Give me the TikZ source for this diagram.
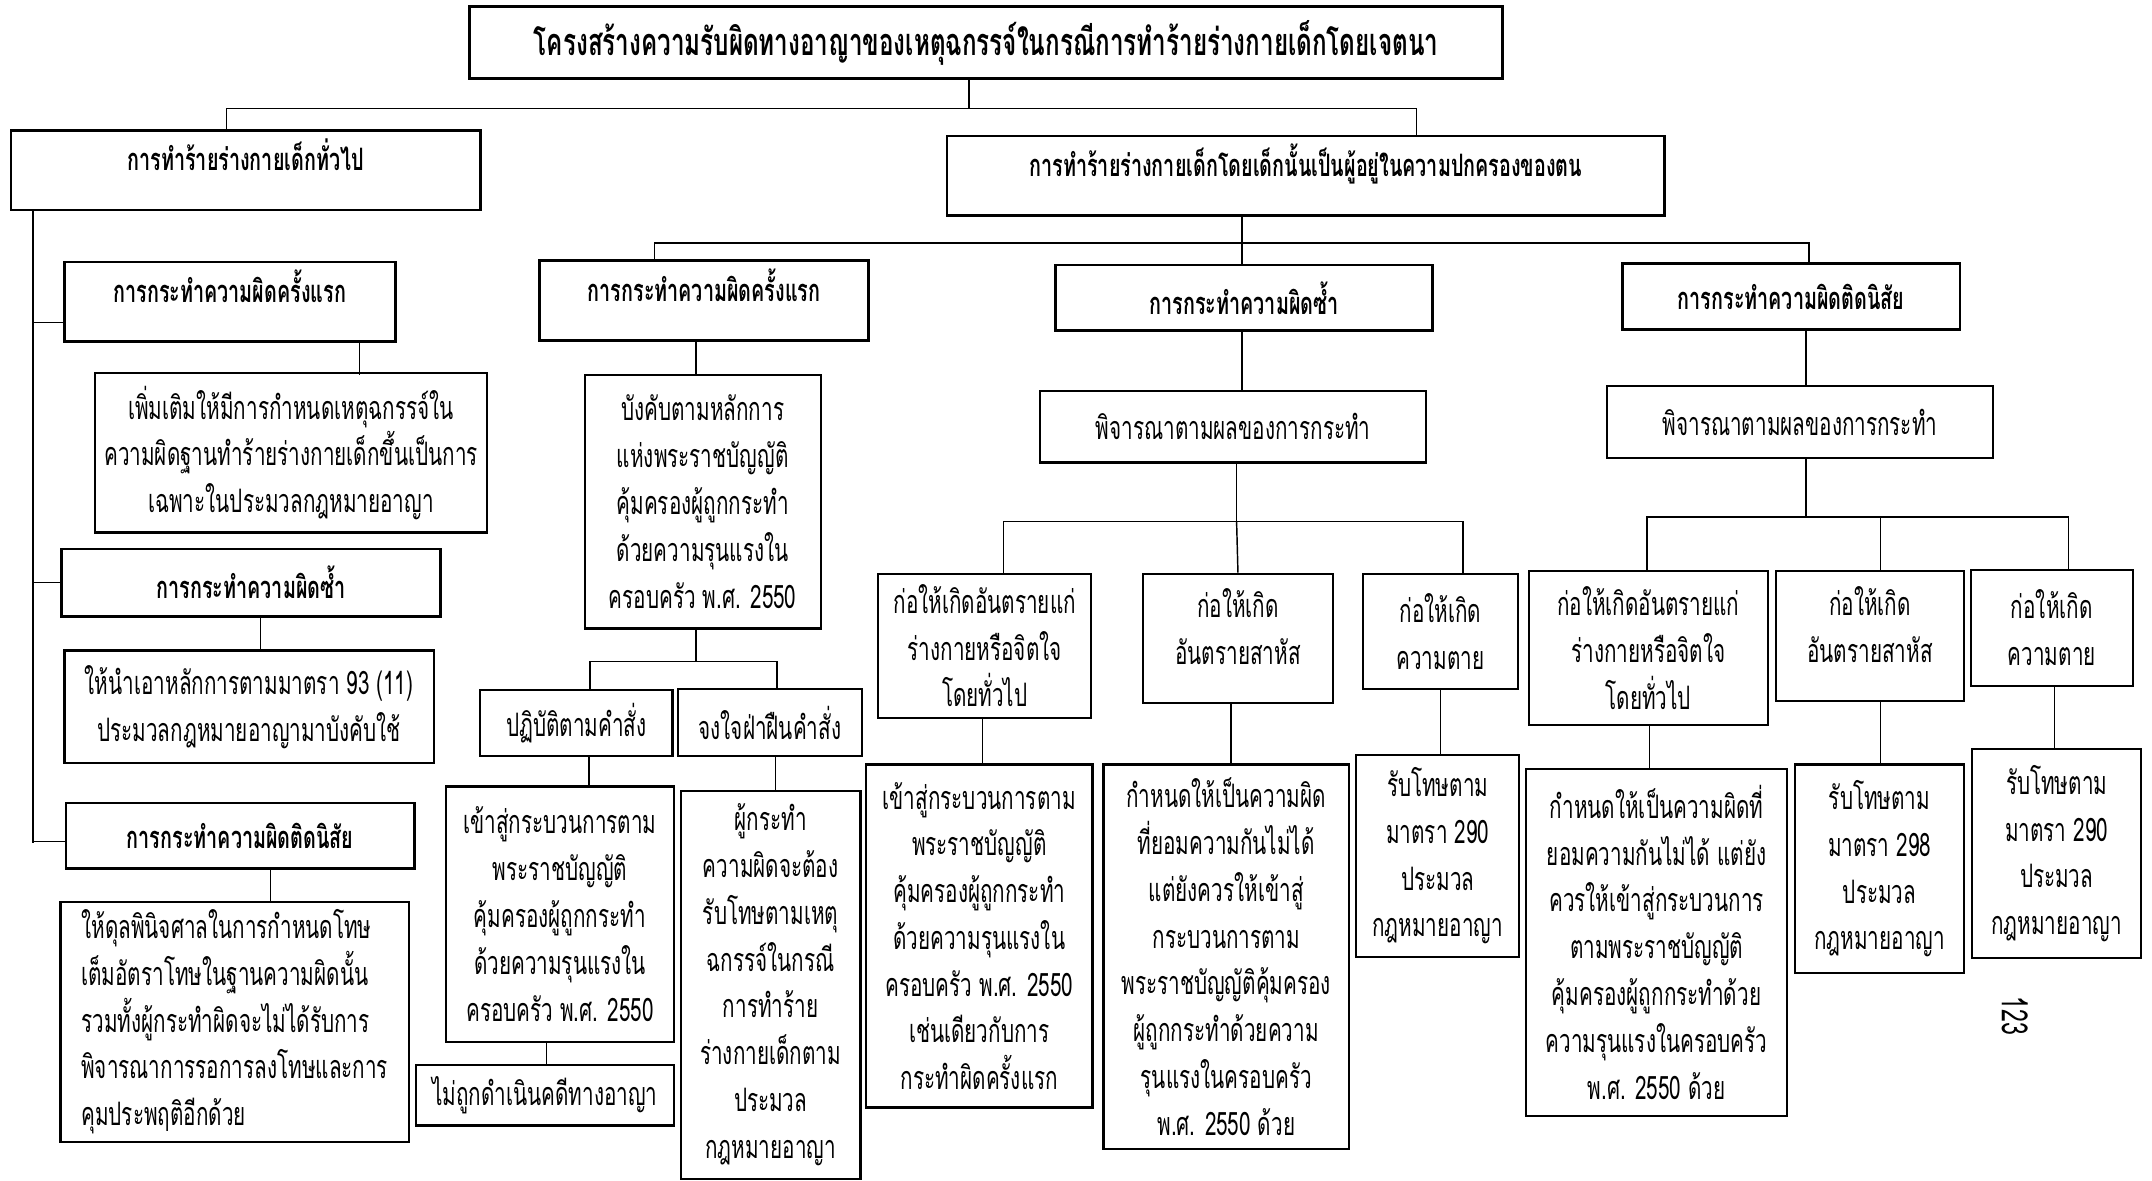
\documentclass[tikz,border=0pt]{standalone}
\usepackage{fontspec}
\newfontfamily\thaifont[Script=Thai,FakeStretch=0.64]{Loma}

\begin{document}
\begin{tikzpicture}[x=0.02cm, y=-0.02cm,
  font=\thaifont\fontsize{13.4}{19.4}\selectfont,
  box/.style={draw, line width=0.9pt, align=center, inner sep=0pt},
  headbox/.style={box, line width=1.1pt, font=\thaifont\bfseries\fontsize{12.8}{19.4}\selectfont},
  tallhead/.style={headbox, text height=0.33cm, text depth=0.31cm},
  titlebox/.style={box, line width=1.3pt, font=\thaifont\bfseries\fontsize{15.7}{20}\selectfont},
  link/.style={line width=0.6pt}]

  \useasboundingbox (0,0) rectangle (1568,860);

    %----------------------------------------------------------
    % Title and the two main cases
    %----------------------------------------------------------
  \node[titlebox, minimum width=15.06cm, minimum height=1.04cm] (title) at (718.5,31)
    {โครงสร้างความรับผิดทางอาญาของเหตุฉกรรจ์ในกรณีการทำร้ายร่างกายเด็กโดยเจตนา};
  \node[tallhead, minimum width=6.84cm, minimum height=1.16cm] (L0) at (179,124)
    {การทำร้ายร่างกายเด็กทั่วไป};
  \node[tallhead, minimum width=10.46cm, minimum height=1.16cm] (R0) at (951.5,128)
    {การทำร้ายร่างกายเด็กโดยเด็กนั้นเป็นผู้อยู่ในความปกครองของตน};

  \draw[link] (title.south) ++(-12.5,0) -- ++(0,21) coordinate (tbar);
  \draw[link] (L0.north) ++(-14,0) |- (tbar);
  \draw[link] (R0.north) ++(80.5,0) |- (tbar);

    %----------------------------------------------------------
    % Left branch: general assault
    %----------------------------------------------------------
  \node[tallhead, minimum width=4.82cm, minimum height=1.16cm] (L1) at (167.5,220)
    {การกระทำความผิดครั้งแรก};
  \node[box, minimum width=5.72cm, minimum height=2.32cm] (L1a) at (212,330)
    {เพิ่มเติมให้มีการกำหนดเหตุฉกรรจ์ใน\\ความผิดฐานทำร้ายร่างกายเด็กขึ้นเป็นการ\\เฉพาะในประมวลกฎหมายอาญา};
  \node[headbox, minimum width=5.52cm, minimum height=0.98cm] (L2) at (183,424.5)
    {การกระทำความผิดซ้ำ};
  \node[box, minimum width=5.38cm, minimum height=1.64cm] (L2a) at (181.5,515)
    {ให้นำเอาหลักการตามมาตรา 93 (11)\\ประมวลกฎหมายอาญามาบังคับใช้};
  \node[headbox, minimum width=5.08cm, minimum height=0.96cm] (L3) at (175,609)
    {การกระทำความผิดติดนิสัย};
  \node[box, align=left, minimum width=5.08cm, minimum height=3.5cm] (L3a) at (171,744.5)
    {ให้ดุลพินิจศาลในการกำหนดโทษ\\เต็มอัตราโทษในฐานความผิดนั้น\\รวมทั้งผู้กระทำผิดจะไม่ได้รับการ\\พิจารณาการรอการลงโทษและการ\\คุมประพฤติอีกด้วย};

  \draw[link] (L0.south) ++(-155,0) coordinate (spine) -- ++(0,460);
  \draw[link] (L1.west) ++(0,15) -- ++(-23,0);
  \draw[link] (L2.west) -- ++(-21,0);
  \draw[link] (L3.west) ++(0,4) -- ++(-24,0);
  \draw[link] (L1.south) ++(94.5,0) -- ++(0,23);
  \draw[link] (L2.south) ++(7,0) -- ++(0,25);
  \draw[link] (L3.south) ++(22,0) -- ++(0,24);

    %----------------------------------------------------------
    % Right branch: first offence
    %----------------------------------------------------------
  \node[tallhead, minimum width=4.8cm, minimum height=1.16cm] (R1) at (513,219)
    {การกระทำความผิดครั้งแรก};
  \node[box, minimum width=3.44cm, minimum height=3.7cm] (R1a) at (512,365.5)
    {บังคับตามหลักการ\\แห่งพระราชบัญญัติ\\คุ้มครองผู้ถูกกระทำ\\ด้วยความรุนแรงใน\\ครอบครัว พ.ศ. 2550};
  \node[box, minimum width=2.8cm, minimum height=0.96cm] (R1b) at (420,527)
    {ปฏิบัติตามคำสั่ง};
  \node[box, minimum width=2.68cm, minimum height=0.98cm] (R1c) at (561,526.5)
    {จงใจฝ่าฝืนคำสั่ง};
  \node[box, minimum width=3.32cm, minimum height=3.72cm] (R1b1) at (408,666)
    {เข้าสู่กระบวนการตาม\\พระราชบัญญัติ\\คุ้มครองผู้ถูกกระทำ\\ด้วยความรุนแรงใน\\ครอบครัว พ.ศ. 2550};
  \node[box, minimum width=3.76cm, minimum height=0.88cm] (R1b2) at (397,798)
    {ไม่ถูกดำเนินคดีทางอาญา};
  \node[box, minimum width=2.62cm, minimum height=5.66cm] (R1c1) at (561.5,717.5)
    {ผู้กระทำ\\ความผิดจะต้อง\\รับโทษตามเหตุ\\ฉกรรจ์ในกรณี\\การทำร้าย\\ร่างกายเด็กตาม\\ประมวล\\กฎหมายอาญา};

  \draw[link] (R0.south) ++(-46.5,0) -- ++(0,19) coordinate (rbar);
  \draw[link] (R1.north) ++(-36,0) |- (rbar);
  \draw[link] (R1.south) ++(-6,0) -- ++(0,25);
  \draw[link] (R1a.south) ++(-5,0) -- ++(0,23) coordinate (r1bar);
  \draw[link] (R1b.north) ++(10,0) |- (r1bar);
  \draw[link] (R1c.north) ++(5,0) |- (r1bar);
  \draw[link] (R1b.south) ++(9,0) -- ++(0,22);
  \draw[link] (R1b1.south) ++(-10,0) -- ++(0,17);
  \draw[link] (R1c.south) ++(4,0) -- ++(0,25);

    %----------------------------------------------------------
    % Right branch: repeated offence
    %----------------------------------------------------------
  \node[headbox, minimum width=5.5cm, minimum height=0.96cm] (R2) at (906.5,217)
    {การกระทำความผิดซ้ำ};
  \node[box, minimum width=5.62cm, minimum height=1.04cm] (R2a) at (898.5,311)
    {พิจารณาตามผลของการกระทำ};
  \node[box, minimum width=3.1cm, minimum height=2.1cm] (R2b) at (717.5,470.5)
    {ก่อให้เกิดอันตรายแก่\\ร่างกายหรือจิตใจ\\โดยทั่วไป};
  \node[box, minimum width=2.76cm, minimum height=1.88cm] (R2c) at (902,465)
    {ก่อให้เกิด\\อันตรายสาหัส\\[-10pt]};
  \node[box, minimum width=2.26cm, minimum height=1.68cm] (R2d) at (1049.5,460)
    {ก่อให้เกิด\\ความตาย};
  \node[box, minimum width=3.3cm, minimum height=5cm] (R2b1) at (713.5,682)
    {เข้าสู่กระบวนการตาม\\พระราชบัญญัติ\\คุ้มครองผู้ถูกกระทำ\\ด้วยความรุนแรงใน\\ครอบครัว พ.ศ. 2550\\เช่นเดียวกับการ\\กระทำผิดครั้งแรก};
  \node[box, minimum width=3.58cm, minimum height=5.6cm] (R2c1) at (893.5,697)
    {กำหนดให้เป็นความผิด\\ที่ยอมความกันไม่ได้\\แต่ยังควรให้เข้าสู่\\กระบวนการตาม\\พระราชบัญญัติคุ้มครอง\\ผู้ถูกกระทำด้วยความ\\รุนแรงในครอบครัว\\พ.ศ. 2550 ด้วย};
  \node[box, minimum width=2.38cm, minimum height=2.94cm] (R2d1) at (1047.5,623.5)
    {รับโทษตาม\\มาตรา 290\\ประมวล\\กฎหมายอาญา};

  \draw[link] (R2.north) ++(-1.5,0) -- ++(0,-17);
  \draw[link] (R2.south) ++(-1.5,0) -- ++(0,44);
  \draw[link] (R2a.south) ++(2.5,0) -- ++(0,42) coordinate (r2bar);
  \draw[link] (R2b.north) ++(13.5,0) |- (r2bar);
  \draw[link] (R2d.north) ++(16.5,0) |- (r2bar);
  \draw[link] (r2bar) -- (R2c.north);
  \draw[link] (R2b.south) ++(-1.5,0) -- ++(0,34);
  \draw[link] (R2c.south) ++(-5,0) -- ++(0,45);
  \draw[link] (R2d.south) -- ++(0,48);

    %----------------------------------------------------------
    % Right branch: habitual offence
    %----------------------------------------------------------
  \node[headbox, minimum width=4.92cm, minimum height=0.96cm] (R3) at (1305,216)
    {การกระทำความผิดติดนิสัย};
  \node[box, minimum width=5.62cm, minimum height=1.06cm] (R3a) at (1311.5,307.5)
    {พิจารณาตามผลของการกระทำ};
  \node[box, minimum width=3.48cm, minimum height=2.24cm] (R3b) at (1201,472)
    {ก่อให้เกิดอันตรายแก่\\ร่างกายหรือจิตใจ\\โดยทั่วไป};
  \node[box, minimum width=2.74cm, minimum height=1.9cm] (R3c) at (1362.5,463.5)
    {ก่อให้เกิด\\อันตรายสาหัส\\[-10pt]};
  \node[box, minimum width=2.36cm, minimum height=1.7cm] (R3d) at (1495,457.5)
    {ก่อให้เกิด\\ความตาย};
  \node[box, minimum width=3.8cm, minimum height=5.06cm] (R3b1) at (1207,686.5)
    {กำหนดให้เป็นความผิดที่\\ยอมความกันไม่ได้ แต่ยัง\\ควรให้เข้าสู่กระบวนการ\\ตามพระราชบัญญัติ\\คุ้มครองผู้ถูกกระทำด้วย\\ความรุนแรงในครอบครัว\\พ.ศ. 2550 ด้วย};
  \node[box, minimum width=2.46cm, minimum height=3.04cm] (R3c1) at (1369.5,633)
    {รับโทษตาม\\มาตรา 298\\ประมวล\\กฎหมายอาญา};
  \node[box, minimum width=2.46cm, minimum height=3.04cm] (R3d1) at (1498.5,622)
    {รับโทษตาม\\มาตรา 290\\ประมวล\\กฎหมายอาญา};

  \draw[link] (R3.north) ++(13,0) |- (rbar);
  \draw[link] (R3.south) ++(11,0) -- ++(0,41);
  \draw[link] (R3a.south) ++(4.5,0) -- ++(0,42) coordinate (r3bar);
  \draw[link] (R3b.north) ++(-1,0) |- (r3bar);
  \draw[link] (R3c.north) ++(7.5,0) |- (r3bar);
  \draw[link] (R3d.north) ++(12,0) |- (r3bar);
  \draw[link] (R3b.south) ++(1,0) -- ++(0,32);
  \draw[link] (R3c.south) ++(7.5,0) -- ++(0,46);
  \draw[link] (R3d.south) ++(2,0) -- ++(0,46);

  % page number
  \node[rotate=-90, font=\thaifont\fontsize{15}{18}\selectfont] (page) at (1468,740) {123};
\end{tikzpicture}
\end{document}
